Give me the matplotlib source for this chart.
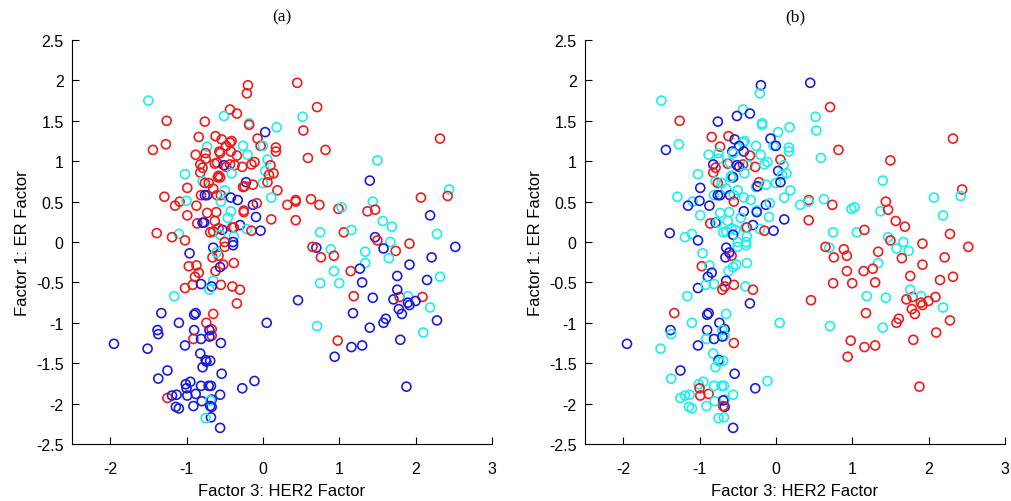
import matplotlib
matplotlib.use("Agg")
import matplotlib.pyplot as plt
import numpy as np

# Factor scores per sample: HER2 factor (x), ER factor (y)
her2 = [
    -1.50, -1.26, -0.76, -0.84, -1.27, -1.44, -0.73, -0.75, -0.88, -0.75,
    -0.82, -0.79, -0.82, -1.02, -0.79, -0.76, -0.71, -0.99, -1.29, -0.81,
    -0.76, -0.73, -1.09, -1.15, -1.00, -0.87, -0.73, -0.99, -0.86, -0.79,
    -0.77, -1.39, -1.10, -1.19, -1.02, -0.69,
    -0.196, -0.21, 0.45, 0.71, -0.43, -0.34, -0.51, 0.52, -0.18, -0.18,
    0.03, 0.18, 0.53, -0.62, -0.54, -0.41, -0.43, -0.07, -0.48, -0.26,
    -0.03, 0.00, 0.17, 0.17, 0.82, -0.57, -0.56, -0.42, -0.20, -0.34,
    0.59, 0.06, -0.63, -0.60, -0.43, -0.37, -0.27, -0.51, -0.48, -0.15,
    -0.11, 0.10, 0.03, 0.14, 0.08, -0.41, -0.58, -0.56, -0.59, 0.00,
    0.06, -0.22, -0.26, -0.24, -0.13, 0.19, -0.65, -0.60, -0.55, -0.50,
    0.11, -0.42, -0.33, 0.32, 0.43, 0.43, 0.63, 0.74, 0.99, 1.03,
    -0.13, -0.08, -0.55, -0.09, -0.25, -0.25, -0.42, -0.46, -0.61, 0.11,
    0.43, -0.63, -0.30, -0.21, -0.15, -0.03, -0.40, -0.38, -0.53, -0.58,
    -0.65, -0.56, 0.75, 1.06, -0.38, -0.39, -0.50,
    2.32, 1.50, 1.40, 2.44, 2.42, 2.07, 1.44, 1.37, 1.47, 2.19,
    1.57, 1.69, 1.16, 2.28, 1.47, 1.50, 1.67, 1.92, 2.52,
    1.34, 1.58, 1.74, 1.65, 1.34, 1.27, 1.15, 2.21, 1.92, 2.32,
    1.76, 2.15, 1.30, 1.19, 1.44, 1.71, 1.79, 1.90, 2.09, 1.90,
    2.00, 1.92, 2.19, 1.78, 1.82, 1.18, 2.28, 1.61, 1.58, 1.40,
    2.10, 1.80, 1.30, 1.16, 1.88, 1.76,
    0.46, 0.05, 0.71, 0.98, 0.94, 0.70, 0.65, 0.89, 0.93, 0.76,
    0.93, 1.00, 0.75,
    -0.50, -0.39, -0.65, -0.66, -0.58, -0.61, -0.52, -0.38, -0.62, -0.56,
    -0.65, -0.55, -0.67, -0.40, -0.30, -0.34, -0.65, -0.67, -0.67, -0.55,
    -0.69, -0.54, -0.11, -0.27, -0.68, -0.56, -0.67, -0.67, -0.68, -0.56,
    -0.96, -0.97, -0.87, -0.84, -0.89, -1.02, -0.92, -0.81, -1.16, -0.70,
    -1.33, -0.90, -0.88, -1.10, -0.74, -1.38, -1.37, -0.90, -0.70, -0.91,
    -0.81, -0.70, -1.95, -1.51, -1.02, -0.82, -0.75, -0.74, -0.79, -1.25,
    -1.37, -1.01, -0.95, -1.00, -0.88, -0.81, -0.71, -0.99, -1.25, -1.19,
    -1.13, -1.14, -1.10, -0.91, -0.80, -0.69, -0.69, -0.75, -0.70, -1.01,
]
er = [
    1.75, 1.50, 1.49, 1.30, 1.21, 1.14, 1.18, 1.10, 1.08, 1.03,
    0.96, 0.92, 0.86, 0.84, 0.75, 0.73, 0.73, 0.67, 0.56, 0.58,
    0.58, 0.58, 0.50, 0.45, 0.51, 0.45, 0.36, 0.33, 0.23, 0.24,
    0.24, 0.11, 0.10, 0.06, 0.02, 0.12,
    1.94, 1.84, 1.97, 1.67, 1.64, 1.59, 1.56, 1.55, 1.47, 1.45,
    1.36, 1.42, 1.38, 1.31, 1.27, 1.25, 1.23, 1.28, 1.19, 1.19,
    1.19, 1.19, 1.17, 1.12, 1.14, 1.12, 1.10, 1.12, 1.08, 1.07,
    1.04, 1.02, 0.97, 0.98, 0.96, 0.95, 0.93, 0.95, 0.93, 0.96,
    0.99, 0.95, 0.88, 0.85, 0.83, 0.85, 0.82, 0.80, 0.80, 0.73,
    0.74, 0.74, 0.68, 0.69, 0.71, 0.64, 0.66, 0.58, 0.58, 0.64,
    0.55, 0.55, 0.52, 0.46, 0.52, 0.50, 0.53, 0.46, 0.41, 0.43,
    0.46, 0.48, 0.50, 0.31, 0.39, 0.37, 0.38, 0.30, 0.37, 0.28,
    0.27, 0.26, 0.21, 0.16, 0.14, 0.14, 0.18, 0.18, 0.15, 0.17,
    0.13, 0.09, 0.12, 0.12, 0.07, 0.00, 0.00,
    1.28, 1.01, 0.76, 0.65, 0.57, 0.55, 0.50, 0.38, 0.40, 0.33,
    0.26, 0.19, 0.15, 0.10, 0.06, 0.02, 0.00, -0.02, -0.06,
    -0.12, -0.08, -0.11, -0.20, -0.26, -0.33, -0.36, -0.19, -0.28, -0.43,
    -0.42, -0.47, -0.50, -0.67, -0.69, -0.71, -0.68, -0.67, -0.68, -0.75,
    -0.73, -0.78, -0.81, -0.83, -0.89, -0.88, -0.97, -0.95, -1.00, -1.06,
    -1.12, -1.21, -1.28, -1.30, -1.79, -0.59,
    -0.72, -1.00, -1.04, -1.22, -1.42, -0.07, -0.06, -0.09, -0.17, -0.19,
    -0.36, -0.51, -0.51,
    -0.06, -0.04, -0.07, -0.19, -0.17, -0.13, -0.28, -0.26, -0.36, -0.31,
    -0.48, -0.53, -0.55, -0.55, -0.59, -0.76, -0.89, -1.08, -1.16, -1.25,
    -1.47, -1.63, -1.72, -1.81, -1.78, -1.89, -1.95, -2.04, -2.17, -2.30,
    -0.14, -0.30, -0.29, -0.38, -0.43, -0.57, -0.53, -0.52, -0.67, -0.59,
    -0.88, -0.90, -0.88, -1.00, -1.00, -1.09, -1.14, -1.09, -1.09, -1.20,
    -1.20, -1.17, -1.26, -1.32, -1.28, -1.38, -1.46, -1.48, -1.55, -1.59,
    -1.69, -1.76, -1.73, -1.81, -1.88, -1.78, -1.78, -1.90, -1.93, -1.90,
    -1.89, -2.04, -2.06, -2.03, -1.97, -1.96, -2.03, -2.18, -2.17, -2.36,
]
# Group labels per sample under two classifications (r = red, b = blue, c = cyan)
group_a = (
    "crrrrrcrrr" "rrrccrrrrr" "bbrrcrrrrb" "brcrrr"
    "rrrrrrcccr" "bcrrrrrrrc" "rcrrrrrrcr" "rcrrrrrbrr"
    "rrcrrcrrrc" "rbrrrrrrrc" "cbbrrrrrrc" "brcbrrccrr"
    "rrbcrbrrbr" "rccrcbr"
    "rcbcrrcrrb" "ccccbrcrbc"
    "brccbrbbcb" "bbrbbrcrbb" "bcbbbbbbbc" "bbbbbb"
    "bcrbbrcrrc" "ccr"
    "bbrrcrrrbc" "rbrrrrrrbb" "bbbbbbbbbb"
    "rrrrrrbcc" "b" "bbbrbbbbrb" "bbbbbbbbbb" "bbbbbbbrbb" "bbbbcbcccb"
)
group_b = (
    "crbrcbrccc" "brrccrcbcc" "bbcbbbccrb" "cbccbc"
    "bcbrcbbcccc" "ccrbccbbcc" "bccrbcbcrc" "rrcrcrbbcc"
    "cbccccbccb" "rcbcccbccc" "cccrccrccb" "crccbbccbr"
    "cbcrbcrcccb" "ccccc"
    "rrcrccrcrc" "rrrrcrcrr"
    "rccrcrrrrr" "rrrccrrcrr" "rrcrrrrrrc" "rrrrrc"
    "rccrrcrrrr" "rrr"
    "ccbbrbccc" "cbrrcrbcbc" "rcbcbcccbc"
    "bcrcbbbcc" "c" "rrbbcbbcbc" "cbbbcbcbcc" "bcccrrccrc" "ccccccbrc"
)

# Tick settings
x_ticks = [-2, -1, 0, 1, 2, 3]
y_ticks = [-2.5, -2, -1.5, -1, -0.5, 0, 0.5, 1, 1.5, 2, 2.5]
y_tick_labels = ["-2.5", "-2", "-1.5", "-1", "-0.5", "0", "0.5", "1", "1.5", "2", "2.5"]
panel_titles = ["(a)", "(b)"]

palette = {"r": "#ee1c1c", "b": "#1c1cdd", "c": "#1ceeee"}

n = min(len(her2), len(er), len(group_a), len(group_b))
x = np.array(her2[:n])
y = np.array(er[:n])

fig = plt.figure(figsize=(10.11, 5.02), dpi=100)
sans = ["Liberation Sans", "DejaVu Sans"]
serif = ["Liberation Serif", "DejaVu Serif"]

axes_pos = [[0.0712, 0.1135, 0.4154, 0.8048], [0.5786, 0.1135, 0.4154, 0.8048]]
for pos, groups, title in zip(axes_pos, [group_a, group_b], panel_titles):
    ax = fig.add_axes(pos)
    cols = [palette[g] for g in groups[:n]]
    ax.scatter(x, y, s=42, facecolors="none", edgecolors=cols, linewidths=1.2)
    ax.set_xlim(-2.5, 3)
    ax.set_ylim(-2.5, 2.5)
    ax.set_xticks(x_ticks)
    ax.set_xticklabels([str(t) for t in x_ticks], family=sans, fontsize=11.5)
    ax.set_yticks(y_ticks)
    ax.set_yticklabels(y_tick_labels, family=sans, fontsize=11.5)
    ax.tick_params(direction="in", length=5, width=0.8)
    ax.tick_params(axis="x", pad=12)
    ax.tick_params(axis="y", pad=6)
    for side in ["top", "right"]:
        ax.spines[side].set_visible(False)
    for side in ["left", "bottom"]:
        ax.spines[side].set_linewidth(0.8)
    ax.set_xlabel("Factor 3: HER2 Factor", family=sans, fontsize=12, labelpad=5)
    ax.set_ylabel("Factor 1: ER Factor", family=sans, fontsize=12, labelpad=4)
    ax.set_title(title, family=serif, fontsize=12.5, pad=14)

fig.savefig("out.png", dpi=100)
